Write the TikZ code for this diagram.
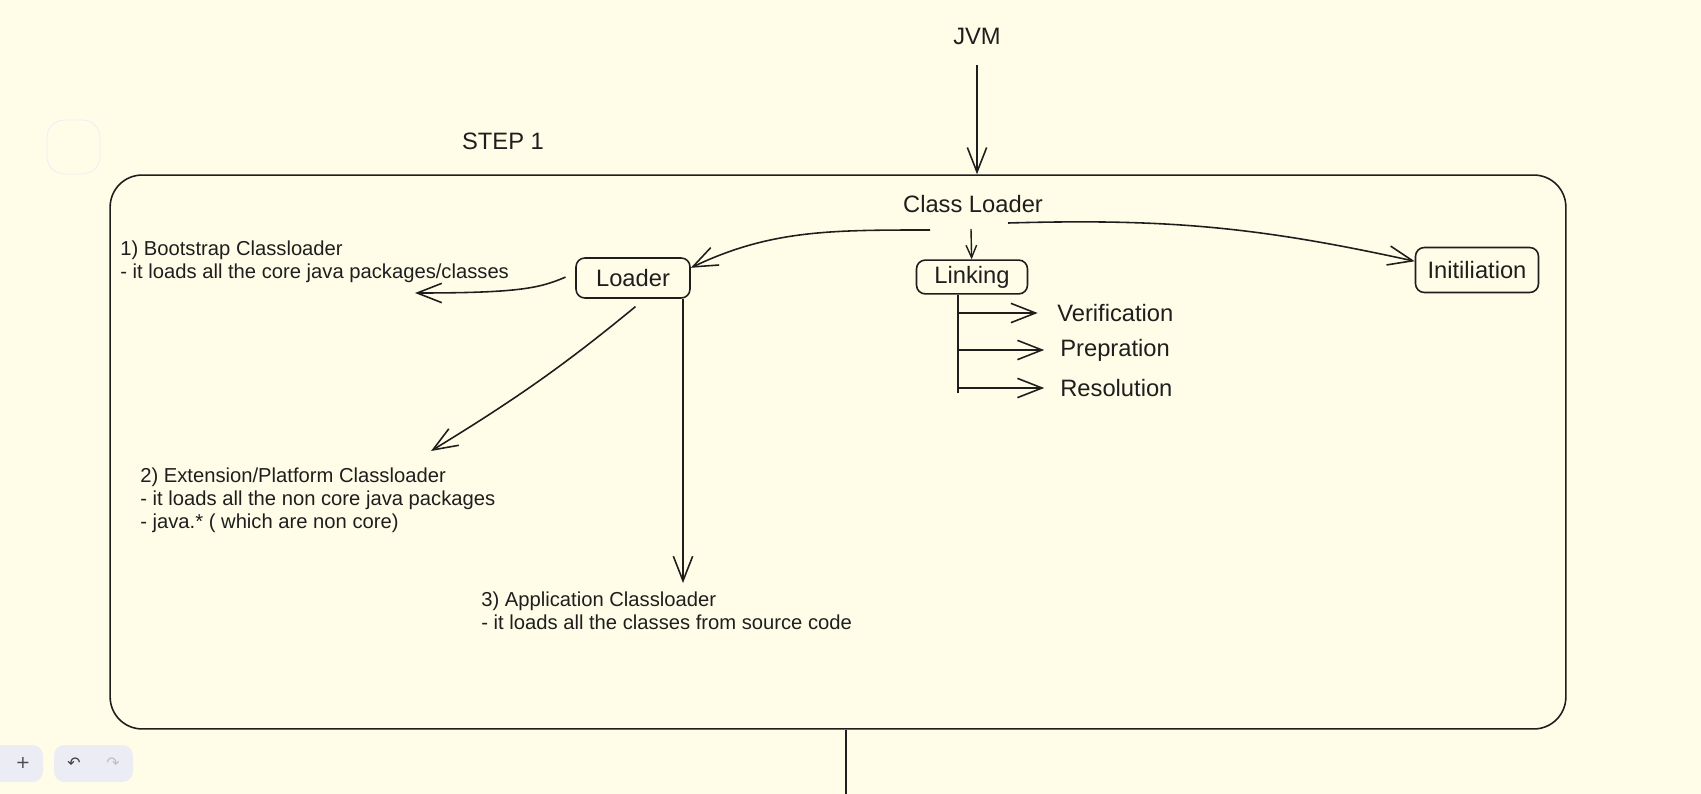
\documentclass[tikz,border=0pt]{standalone}
\usepackage{fontspec}
\setmainfont{Liberation Sans}
\newfontfamily\symfont{DejaVu Sans}
\usetikzlibrary{arrows.meta}
\definecolor{paper}{RGB}{255,253,232}
\definecolor{ink}{RGB}{30,30,30}
\definecolor{uigray}{RGB}{236,236,244}
\definecolor{uiline}{RGB}{234,236,248}
\tikzset{
  big/.style={font=\fontsize{13.5}{16}\selectfont, text=ink},
  note/.style={font=\fontsize{11.5}{13}\selectfont, text=ink, align=left, anchor=north west, inner sep=0pt},
  stage/.style={big, draw=ink, line width=0.9pt, rounded corners=5pt},
  frame/.style={draw=ink, line width=0.9pt, rounded corners=0.64cm},
  flow/.style={draw=ink, line width=0.9pt, -{Straight Barb[length=14pt,width=11pt]}},
  tinyflow/.style={draw=ink, line width=0.8pt, -{Straight Barb[length=7pt,width=6pt]}},
  sub/.style={big, anchor=west, inner sep=0pt}
}
\begin{document}
\begin{tikzpicture}[x=0.02cm,y=-0.02cm]
\fill[paper] (0,0) rectangle (1701,794);
\useasboundingbox (0,0) rectangle (1701,794);
\draw[uiline, rounded corners=10pt] (47,120) rectangle (100,174);
\fill[uigray, rounded corners=6pt] (-20,745) rectangle (43,782);
\fill[uigray, rounded corners=6pt] (54,745) rectangle (133,782);
\node[text=black!70] at (23,763) (zoomin) {\symfont +};
\node[text=black!75] at (74,763) (undo) {\symfont\small ↶};
\node[text=black!25] at (113,763) (redo) {\symfont\small ↷};
\node[big] at (977,36) (jvm) {JVM};
\node[big] at (503,141) (steplabel) {STEP 1};
\node[frame, minimum width=29.12cm, minimum height=11.08cm] at (838,452) (step) {};
\node[big] at (973,204) (cl) {Class Loader};
\node[stage, minimum width=2.28cm, minimum height=0.8cm] at (633,278) (loader) {Loader};
\node[stage, minimum width=2.22cm, minimum height=0.62cm] at (972,277) (linking) {Linking};
\node[stage, minimum width=2.46cm, minimum height=0.9cm] at (1477,270) (init) {Initiliation};
\node[sub] at (1057,313) (ver) {Verification};
\node[sub] at (1060,350) (pre) {Prepration};
\node[sub] at (1060,388) (res) {Resolution};
\node[note] at (120,241) (boot) {1) Bootstrap Classloader\\- it loads all the core java packages/classes};
\node[note] at (140,468) (ext) {2) Extension/Platform Classloader\\- it loads all the non core java packages\\- java.* ( which are non core)};
\node[note] at (481,592) (app) {3) Application Classloader\\- it loads all the classes from source code};
\coordinate (clL) at (930,230);
\coordinate (clM) at (971,229);
\coordinate (clR) at (1008,223);
\coordinate (bootTip) at (415,293);
\coordinate (extTip) at (431,451);
\coordinate (appTip) at (683,583);
\coordinate (spine) at (958,393);
\coordinate (edge) at (846,794);
\draw[flow, shorten <=8pt] (jvm.south) -- (jvm.south |- step.north);
\draw[flow] (clL) .. controls (830,230) and (770,230) .. (loader.10);
\draw[tinyflow] (clM) -- (linking);
\draw[flow] (clR) to[bend left=7] (init.172);
\draw[flow, shorten <=6pt] (loader.175) .. controls (540,288) and (520,293) .. (bootTip);
\draw[flow, shorten <=7pt] (loader.-60) to[bend left=4] (extTip);
\draw[flow] (loader.south -| appTip) -- (appTip);
\draw[ink, line width=0.9pt] (linking.south -| spine) -- (spine);
\draw[flow, shorten >=11pt] (ver.west -| spine) -- (ver.west);
\draw[flow, shorten >=9pt] (pre.west -| spine) -- (pre.west);
\draw[flow, shorten >=9pt] (res.west -| spine) -- (res.west);
\draw[ink, line width=1pt] (step.south -| edge) -- (edge);
\end{tikzpicture}
\end{document}
